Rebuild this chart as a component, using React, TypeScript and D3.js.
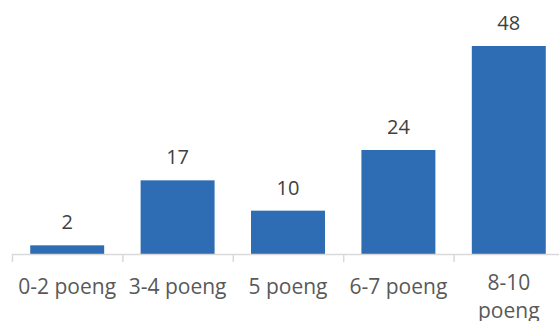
import React from "react";
import * as d3 from "d3";

const categories: string[][] = [["0-2 poeng"], ["3-4 poeng"], ["5 poeng"], ["6-7 poeng"], ["8-10", "poeng"]];
const values: number[] = [2, 17, 10, 24, 48];

const W = 559;
const H = 321;

export default function App() {
  const keys = categories.map((c) => c.join(" "));
  const x = d3.scaleBand<string>().domain(keys).range([12, 12 + 5 * 110.4]).paddingInner(0.33).paddingOuter(0.165);
  const y = d3.scaleLinear().domain([0, 48]).range([254, 46]);
  const step = x.step();
  const x0 = 12;
  const font = "'Open Sans', sans-serif";
  return (
    <div style={{ position: "fixed", left: 0, top: 0 }}>
      <svg width={W} height={H} style={{ display: "block", background: "#fff" }}>
        {keys.map((k, i) => (
          <rect key={k} x={x(k)} y={y(values[i])} width={x.bandwidth()} height={y(0) - y(values[i])} fill="#2e6db4" />
        ))}
        <line x1={x0} x2={x0 + step * 5} y1={254.5} y2={254.5} stroke="#d9d9d9" strokeWidth={1.5} />
        {d3.range(6).map((i) => (
          <line key={i} x1={x0 + step * i + 0.5} x2={x0 + step * i + 0.5} y1={254} y2={262} stroke="#d9d9d9" strokeWidth={1.5} />
        ))}
        {keys.map((k, i) => (
          <text key={"v" + k} x={(x(k) as number) + x.bandwidth() / 2} y={y(values[i]) - 16} textAnchor="middle" fontFamily={font} fontSize={20} fill="#404040">
            {values[i]}
          </text>
        ))}
        {categories.map((c, i) => {
          const cx = (x(keys[i]) as number) + x.bandwidth() / 2;
          const y0 = c.length > 1 ? 290 : 294;
          return (
            <text key={"c" + i} x={cx} y={y0} textAnchor="middle" fontFamily={font} fontSize={21} fill="#595959">
              {c.map((line, j) => (
                <tspan key={j} x={cx} dy={j === 0 ? 0 : 28}>
                  {line}
                </tspan>
              ))}
            </text>
          );
        })}
      </svg>
    </div>
  );
}
